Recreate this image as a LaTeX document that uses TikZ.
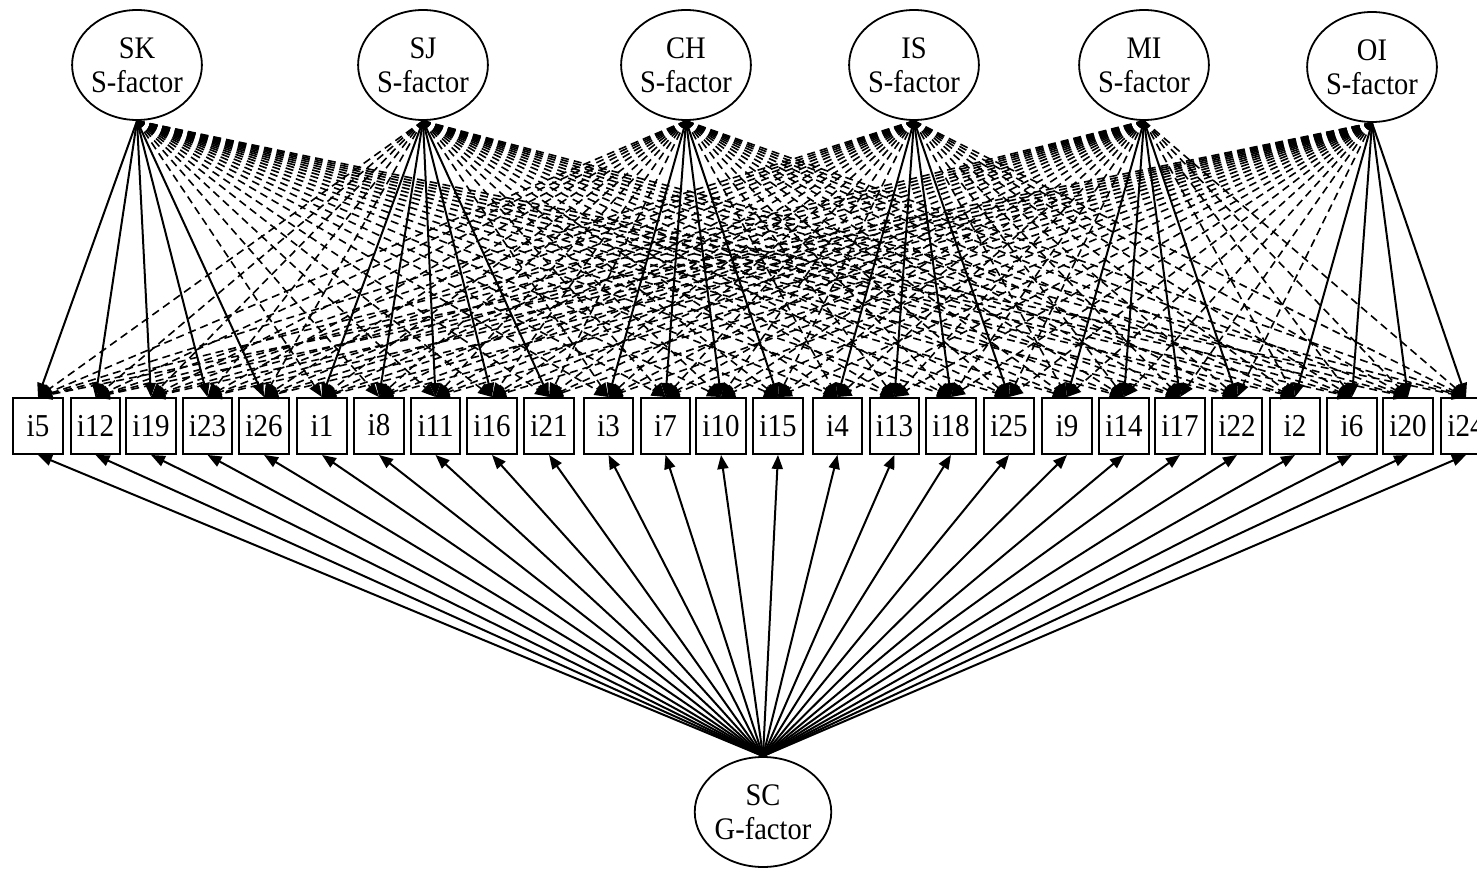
\documentclass[tikz,border=0pt]{standalone}
\usepackage{fontspec}
\setmainfont{Liberation Serif}
\usetikzlibrary{shapes.geometric,arrows.meta}
\newcommand{\tallt}[1]{\scalebox{1}[1.1]{#1}}
\begin{document}
\begin{tikzpicture}[x=1pt,y=-1pt,
  lat/.style={draw, ellipse, line width=1.8pt, minimum width=127pt, minimum height=110pt,
    inner sep=0pt, align=center, font=\fontsize{28.5}{34}\selectfont},
  item/.style={draw, rectangle, line width=2.4pt, minimum width=49.5pt, minimum height=55.5pt,
    inner sep=0pt, fill=white, font=\fontsize{29}{32}\selectfont},
  load/.style={line width=2pt, -{Triangle[length=14pt,width=11pt]}},
  cross/.style={line width=1.6pt, dash pattern=on 8pt off 5pt, -{Triangle[length=14pt,width=11pt]}},
]
\useasboundingbox (0,0) rectangle (1477,869);
\clip (0,0) rectangle (1477,869);
% latent factors
\node[lat] (SK) at (137,65) {\tallt{SK}\\\tallt{S-factor}};
\node[lat] (SJ) at (423,65) {\tallt{SJ}\\\tallt{S-factor}};
\node[lat] (CH) at (686,65) {\tallt{CH}\\\tallt{S-factor}};
\node[lat] (IS) at (914,65) {\tallt{IS}\\\tallt{S-factor}};
\node[lat] (MI) at (1144,65) {\tallt{MI}\\\tallt{S-factor}};
\node[lat] (OI) at (1372,67) {\tallt{OI}\\\tallt{S-factor}};
\node[lat, minimum width=128pt] (SC) at (763,812) {\tallt{SC}\\\tallt{G-factor}};
% items
\foreach \i/\x in {i5/38, i12/95.5, i19/151, i23/207.5, i26/264, i1/322, i11/435.5,
  i16/492, i21/549, i3/608.5, i7/665.5, i10/721, i15/778, i4/837.5, i13/894.5, i18/951,
  i25/1009, i9/1067, i14/1124, i17/1180, i22/1237, i2/1295, i6/1352, i20/1408, i24/1466}
  {\node[item] (\i) at (\x,426) {\tallt{\i}};}
\node[item] (i8) at (379,426) {\raisebox{3pt}{\tallt{i8}}};
% cross loadings (dashed)
\foreach \f in {SK,SJ,CH,IS,MI,OI}{
  \foreach \i/\g in {i5/SK,i12/SK,i19/SK,i23/SK,i26/SK,i1/SJ,i8/SJ,i11/SJ,i16/SJ,i21/SJ,
    i3/CH,i7/CH,i10/CH,i15/CH,i4/IS,i13/IS,i18/IS,i25/IS,i9/MI,i14/MI,i17/MI,i22/MI,
    i2/OI,i6/OI,i20/OI,i24/OI}{
    \ifx\f\g\else\draw[cross] (\f.south) -- (\i.north);\fi
  }
}
% specific loadings (solid)
\foreach \i/\g in {i5/SK,i12/SK,i19/SK,i23/SK,i26/SK,i1/SJ,i8/SJ,i11/SJ,i16/SJ,i21/SJ,
    i3/CH,i7/CH,i10/CH,i15/CH,i4/IS,i13/IS,i18/IS,i25/IS,i9/MI,i14/MI,i17/MI,i22/MI,
    i2/OI,i6/OI,i20/OI,i24/OI}{
  \draw[load] (\g.south) -- (\i.north);
  \draw[load] (SC.north) -- (\i.south);
}
\end{tikzpicture}
\end{document}
